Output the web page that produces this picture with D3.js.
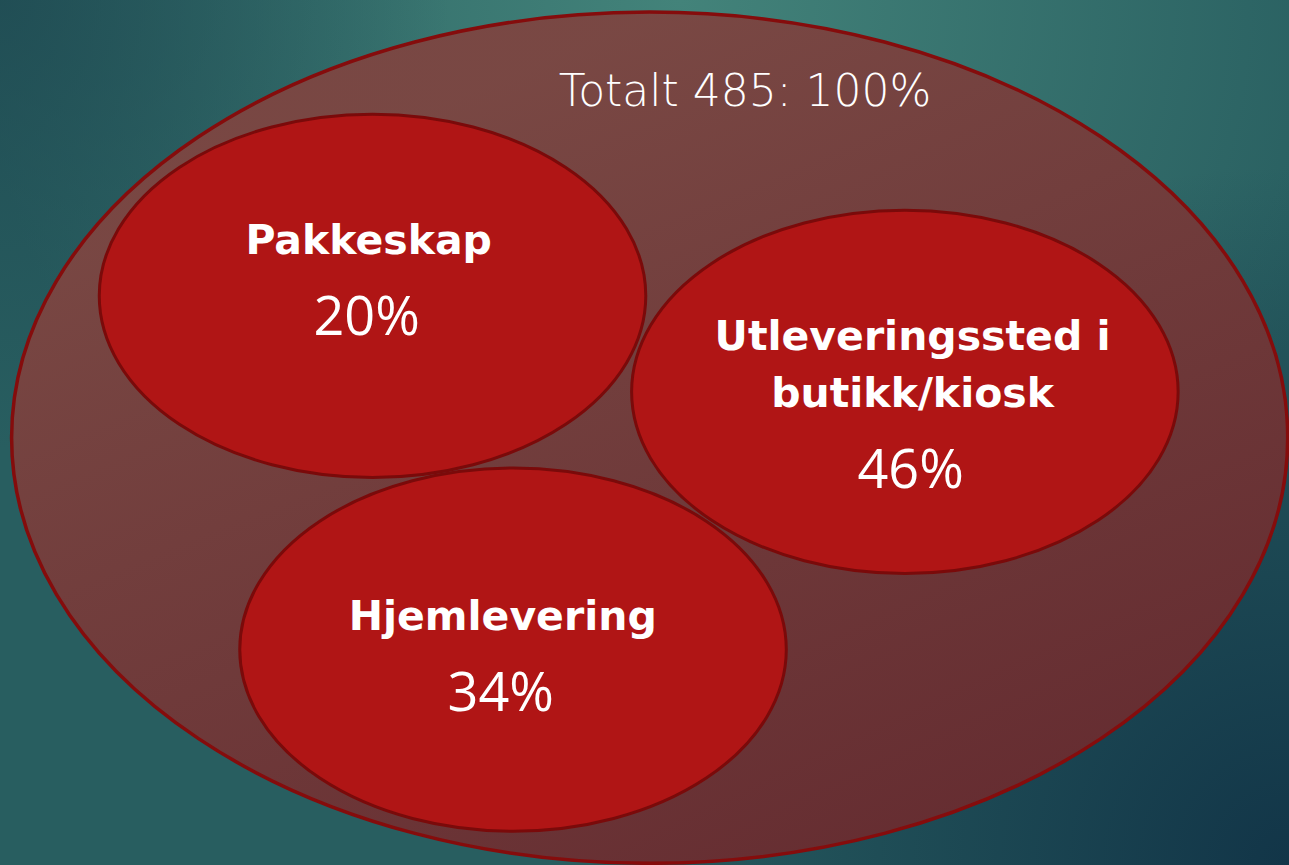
<!DOCTYPE html>
<html>
<head>
<meta charset="utf-8">
<script src="https://cdn.jsdelivr.net/npm/d3@7"></script>
<style>
  html, body { margin: 0; padding: 0; overflow: hidden; }
  svg { display: block; }
</style>
</head>
<body>
<div id="chart"></div>
<script>
// data
var total = 485;
var totalShare = 100;
var categories = ["Pakkeskap", "Utleveringssted i\nbutikk/kiosk", "Hjemlevering"];
var shares = [20, 46, 34];

// layout, in a 0..100 unit space (ellipse centres and first text line)
var centreX = [28.9, 70.2, 39.8];
var centreY = [34.2, 45.3, 75.1];
var labelX = [28.6, 70.8, 39.0];
var labelY = [29.4, 40.5, 72.8];

var W = 1289, H = 865;
var x = d3.scaleLinear().domain([0, 100]).range([0, W]);
var y = d3.scaleLinear().domain([0, 100]).range([0, H]);

var svg = d3.select("#chart").append("svg")
    .attr("width", W)
    .attr("height", H);

var defs = svg.append("defs");

// background: teal base, light at top centre, dark towards the corners
function radial(id, cx, cy, r, color, op) {
    var g = defs.append("radialGradient")
        .attr("id", id)
        .attr("gradientUnits", "userSpaceOnUse")
        .attr("cx", cx).attr("cy", cy).attr("r", r);
    g.append("stop").attr("offset", "0%").attr("stop-color", color).attr("stop-opacity", op);
    g.append("stop").attr("offset", "100%").attr("stop-color", color).attr("stop-opacity", 0);
}
radial("hi", 680, 0, 700, "#43837a", 1);
radial("dkBR", 1289, 865, 700, "#123548", 1);
radial("dkTL", 0, 0, 450, "#1f4a52", 0.8);

var outerFill = defs.append("linearGradient")
    .attr("id", "outer")
    .attr("x1", "0.35").attr("y1", "0.1")
    .attr("x2", "0.85").attr("y2", "0.9");
outerFill.append("stop").attr("offset", "0%").attr("stop-color", "#7b4642");
outerFill.append("stop").attr("offset", "100%").attr("stop-color", "#682c30");

svg.append("rect").attr("width", W).attr("height", H).attr("fill", "#285e60");
["hi", "dkBR", "dkTL"].forEach(function(id) {
    svg.append("rect").attr("width", W).attr("height", H).attr("fill", "url(#" + id + ")");
});

// total
svg.append("ellipse")
    .attr("cx", x(50.4)).attr("cy", y(50.6))
    .attr("rx", x(49.5)).attr("ry", y(49.2))
    .attr("fill", "url(#outer)")
    .attr("fill-opacity", 0.97)
    .attr("stroke", "#850c0c")
    .attr("stroke-width", 3.5);

svg.append("text")
    .attr("x", x(57.8)).attr("y", y(12.2))
    .attr("text-anchor", "middle")
    .attr("fill", "white")
    .style("font-family", "'DejaVu Sans', sans-serif")
    .style("font-weight", 200)
    .style("font-size", "44px")
    .text("Totalt " + total + ": " + totalShare + "%");

// categories
svg.selectAll("ellipse.cat")
    .data(categories)
    .enter().append("ellipse")
    .attr("class", "cat")
    .attr("cx", function(d, i) { return x(centreX[i]); })
    .attr("cy", function(d, i) { return y(centreY[i]); })
    .attr("rx", x(21.2))
    .attr("ry", y(21.0))
    .attr("fill", "#b01515")
    .attr("stroke", "#7a0a0a")
    .attr("stroke-width", 3);

categories.forEach(function(d, i) {
    var lines = d.split("\n");
    var tx = x(labelX[i]), ty = y(labelY[i]);
    lines.forEach(function(line, j) {
        svg.append("text")
            .attr("x", tx)
            .attr("y", ty + j * 57)
            .attr("text-anchor", "middle")
            .attr("fill", "white")
            .style("font-family", "'DejaVu Sans', sans-serif")
            .style("font-weight", "bold")
            .style("font-size", "41px")
            .text(line);
    });
    svg.append("text")
        .attr("x", tx - 2)
        .attr("y", ty + (lines.length - 1) * 57 + 81)
        .attr("text-anchor", "middle")
        .attr("fill", "white")
        .style("font-family", "'Open Sans', sans-serif")
        .style("font-size", "54px")
        .text(shares[i] + "%");
});
</script>
</body>
</html>
